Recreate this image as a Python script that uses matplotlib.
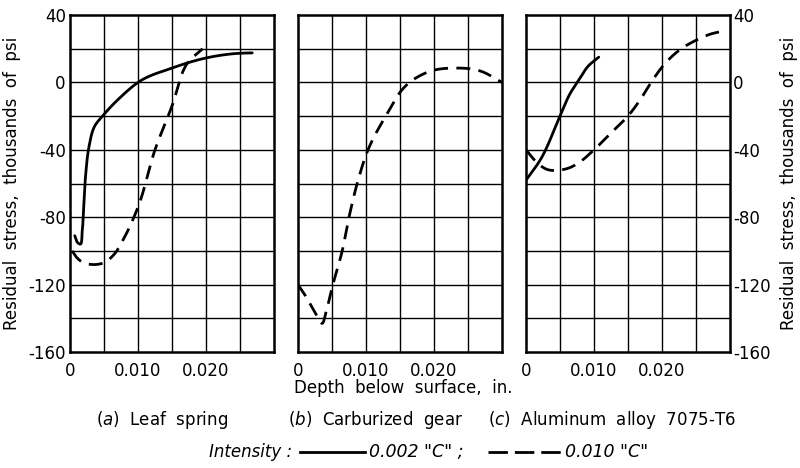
import matplotlib
matplotlib.use("Agg")
import matplotlib.pyplot as plt
from matplotlib.lines import Line2D
import numpy as np

plt.rcParams['font.family'] = ['DejaVu Sans']

# ---- data (depth in inches, residual stress in ksi) ----
a_solid_depth = [0.0007, 0.0011, 0.0015, 0.0018, 0.0020, 0.0023, 0.0028, 0.0035, 0.005, 0.0075, 0.010, 0.015, 0.020, 0.025, 0.0268]
a_solid_stress = [-91, -95, -96, -88, -75, -55, -38, -27, -19, -8.5, 0, 8.5, 14.5, 17.3, 17.5]

a_dash_depth = [0.0003, 0.001, 0.002, 0.003, 0.004, 0.005, 0.0065, 0.008, 0.010, 0.0125, 0.015, 0.0172, 0.0195]
a_dash_stress = [-100, -104, -107, -108, -108, -107, -102, -92, -74, -40, -14, 11, 20]

b_dash_depth = [0.0, 0.001, 0.002, 0.003, 0.0035, 0.0042, 0.005, 0.0065, 0.0075, 0.0087, 0.0103, 0.0129, 0.0156, 0.019, 0.023, 0.027, 0.030]
b_dash_stress = [-120, -126, -133, -140, -143, -135, -122, -100, -80, -60, -40, -20, -3, 6, 8.5, 6.5, 0]

c_solid_depth = [0.0, 0.0021, 0.005, 0.0065, 0.0078, 0.009, 0.0107]
c_solid_stress = [-58, -46, -20, -6.5, 1.5, 9, 15]

c_dash_depth = [0.0, 0.001, 0.002, 0.003, 0.005, 0.0065, 0.008, 0.010, 0.0125, 0.0152, 0.017, 0.0184, 0.0204, 0.0225, 0.025, 0.027, 0.029]
c_dash_stress = [-40, -45, -49, -51.5, -52, -50.5, -47, -40, -30, -19, -9, 0, 11, 19, 25, 28.5, 30.5]

x_ticks = [0, 0.010, 0.020]
x_ticklabels = ["0", "0.010", "0.020"]
y_ticks = [40, 0, -40, -80, -120, -160]
y_ticklabels = ["40", "0", "-40", "-80", "-120", "-160"]

W, H = 800, 468
fig = plt.figure(figsize=(8, 4.68), dpi=100)

lefts = [70, 298, 526]
pw, ph = 204, 337
top = 15
axes = []
for lx in lefts:
    ax = fig.add_axes([lx / W, 1 - (top + ph) / H, pw / W, ph / H])
    axes.append(ax)

def smooth(x, y, n=300):
    x = np.asarray(x, float); y = np.asarray(y, float)
    t = np.zeros(len(x))
    d = np.hypot(np.diff(x) / 0.030, np.diff(y) / 200.0)
    t[1:] = np.cumsum(d)
    tt = np.linspace(0, t[-1], n)
    def herm(vals):
        vals = np.asarray(vals, float)
        m = np.gradient(vals, t)
        out = np.empty_like(tt)
        for i, s in enumerate(tt):
            k = min(np.searchsorted(t, s, side='right') - 1, len(t) - 2)
            h = t[k + 1] - t[k]
            u = (s - t[k]) / h
            h00 = 2*u**3 - 3*u**2 + 1; h10 = u**3 - 2*u**2 + u
            h01 = -2*u**3 + 3*u**2; h11 = u**3 - u**2
            out[i] = h00*vals[k] + h10*h*m[k] + h01*vals[k+1] + h11*h*m[k+1]
        return out
    return herm(x), herm(y)

solid_kw = dict(color='black', lw=2.0, solid_capstyle='round')
dash_kw = dict(color='black', lw=2.0, dashes=(5, 3))

series = [
    [(a_solid_depth, a_solid_stress, solid_kw), (a_dash_depth, a_dash_stress, dash_kw)],
    [(b_dash_depth, b_dash_stress, dash_kw)],
    [(c_solid_depth, c_solid_stress, solid_kw), (c_dash_depth, c_dash_stress, dash_kw)],
]

tick_fs = 12
for i, ax in enumerate(axes):
    ax.set_xlim(0, 0.030)
    ax.set_ylim(-160, 40)
    for gx in np.arange(0.005, 0.030, 0.005):
        ax.axvline(gx, color='black', lw=1.0, zorder=1)
    for gy in np.arange(-140, 40, 20):
        ax.axhline(gy, color='black', lw=1.0, zorder=1)
    ax.set_xticks(x_ticks)
    ax.set_xticklabels(x_ticklabels, fontsize=tick_fs)
    ax.set_yticks(y_ticks)
    ax.tick_params(which='both', length=0, pad=8)
    ax.tick_params(axis='x', pad=7)
    for sp in ax.spines.values():
        sp.set_linewidth(1.8)
    if i == 0:
        ax.set_yticklabels(y_ticklabels, fontsize=tick_fs)
        ax.tick_params(axis='y', pad=3)
    elif i == 2:
        ax.yaxis.tick_right()
        ax.set_yticklabels(y_ticklabels, fontsize=tick_fs)
        ax.tick_params(axis='y', pad=2)
    else:
        ax.set_yticklabels([])
    for xs, ys, kw in series[i]:
        sx, sy = smooth(xs, ys)
        ax.plot(sx, sy, zorder=3, **kw)

ylab = "Residual  stress,  thousands  of  psi"
fig.text(12 / W, 1 - 183 / H, ylab, rotation=90, ha='center', va='center', fontsize=12)
fig.text(789 / W, 1 - 183 / H, ylab, rotation=90, ha='center', va='center', fontsize=12)

fig.text(403 / W, 1 - 388 / H, "Depth  below  surface,  in.", ha='center', va='center', fontsize=12)

cap_y = 1 - 420 / H
cap_fs = 12
fig.text(162 / W, cap_y, r"($\it{a}$)  Leaf  spring", ha='center', va='center', fontsize=cap_fs)
fig.text(376 / W, cap_y, r"($\it{b}$)  Carburized  gear", ha='center', va='center', fontsize=cap_fs)
fig.text(612 / W, cap_y, r"($\it{c}$)  Aluminum  alloy  7075-T6", ha='center', va='center', fontsize=cap_fs)

leg_y = 1 - 452 / H
fig.text(292 / W, leg_y, "Intensity :", ha='right', va='center', fontsize=12, style='italic')
fig.add_artist(Line2D([300 / W, 365 / W], [leg_y, leg_y], color='black', lw=2.0))
fig.text(369 / W, leg_y, '0.002 "C" ;', ha='left', va='center', fontsize=12.5, style='italic')
fig.add_artist(Line2D([488 / W, 562 / W], [leg_y, leg_y], color='black', lw=2.0, dashes=(7, 2.5)))
fig.text(565 / W, leg_y, '0.010 "C"', ha='left', va='center', fontsize=12.5, style='italic')

fig.savefig("out.png", dpi=100)
